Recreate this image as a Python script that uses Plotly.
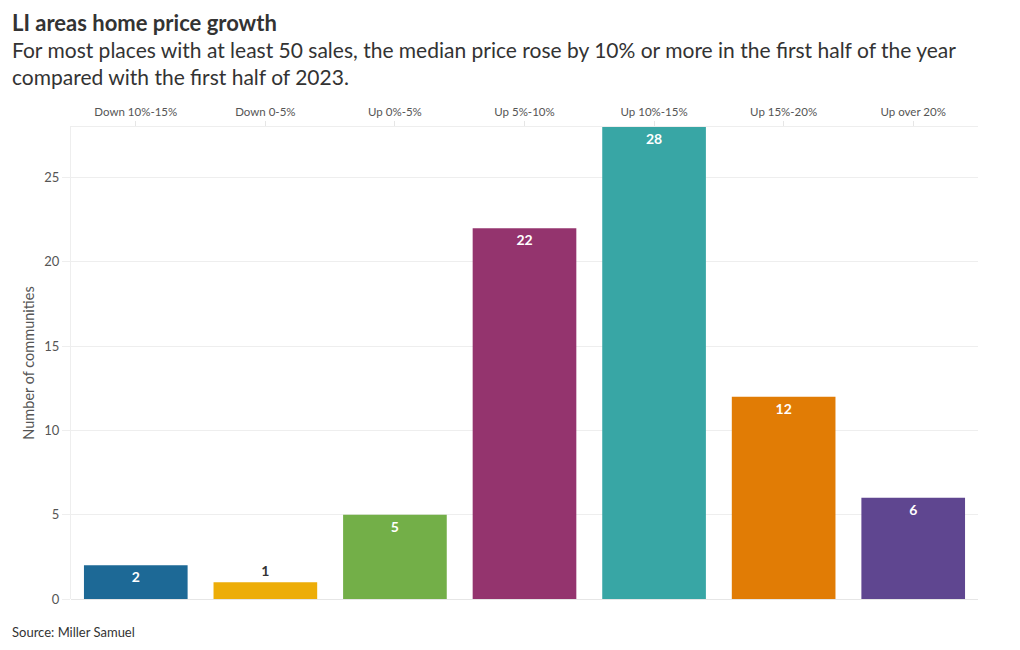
import plotly.graph_objects as go

categories = ["Down 10%-15%", "Down 0-5%", "Up 0%-5%", "Up 5%-10%", "Up 10%-15%", "Up 15%-20%", "Up over 20%"]
counts = [2, 1, 5, 22, 28, 12, 6]
colors = ["#1D6996", "#EDAD08", "#73AF48", "#94346E", "#38A6A5", "#E17C05", "#5F4690"]
label_positions = ["inside", "outside", "inside", "inside", "inside", "inside", "inside"]
y_ticks = [0, 5, 10, 15, 20, 25]

FONT = "Lato"
OFF = 8  # page offset of the plot div

fig = go.Figure(go.Bar(
    x=categories,
    y=counts,
    marker=dict(color=colors, line=dict(width=0)),
    text=[str(v) for v in counts],
    textposition=label_positions,
    insidetextanchor="end",
    textfont=dict(family=FONT, size=14, color=["#ffffff", "#333333", "#ffffff", "#ffffff", "#ffffff", "#ffffff", "#ffffff"], weight="bold"),
    outsidetextfont=dict(family=FONT, size=14, color="#333333", weight="bold"),
    cliponaxis=False,
    width=0.8,
    hoverinfo="skip",
))

fig.update_layout(
    width=1020, height=650,
    margin=dict(l=71 - OFF, r=42 + OFF, t=127 - OFF, b=51 + OFF),
    paper_bgcolor="white", plot_bgcolor="white",
    font=dict(family=FONT, color="#333333"),
    showlegend=False,
    bargap=0.2,
    xaxis=dict(
        side="top",
        tickfont=dict(family=FONT, size=11.5, color="#555555"),
        ticks="outside", ticklen=5, tickcolor="#e6e6e6",
        showline=True, linecolor="#eeeeee", linewidth=1,
        showgrid=False,
    ),
    yaxis=dict(
        range=[0, 28],
        tickvals=y_ticks,
        tickfont=dict(family=FONT, size=13, color="#555555"),
        ticks="outside", ticklen=8, tickcolor="#eeeeee",
        showgrid=True, gridcolor="#eeeeee", gridwidth=1,
        zeroline=True, zerolinecolor="#e6e6e6", zerolinewidth=1,
        showline=True, linecolor="#eeeeee", linewidth=1,
        title=dict(text="Number of communities", font=dict(family=FONT, size=14.5, color="#555555"), standoff=6),
    ),
    annotations=[
        dict(text="<b>LI areas home price growth</b>", xref="paper", yref="paper",
             x=-61/907, y=(599-7)/472, xanchor="left", yanchor="top", showarrow=False,
             font=dict(family=FONT, size=22, color="#333333")),
        dict(text="For most places with at least 50 sales, the median price rose by 10% or more in the first half of the year<br>compared with the first half of 2023.",
             xref="paper", yref="paper", x=-61/907, y=(599-35)/472, xanchor="left", yanchor="top",
             align="left", showarrow=False,
             font=dict(family=FONT, size=21, color="#333333")),
        dict(text="Source: Miller Samuel", xref="paper", yref="paper",
             x=-61/907, y=(599-622)/472, xanchor="left", yanchor="top", showarrow=False,
             font=dict(family=FONT, size=13, color="#333333")),
    ],
)

fig.write_html("out.html")
